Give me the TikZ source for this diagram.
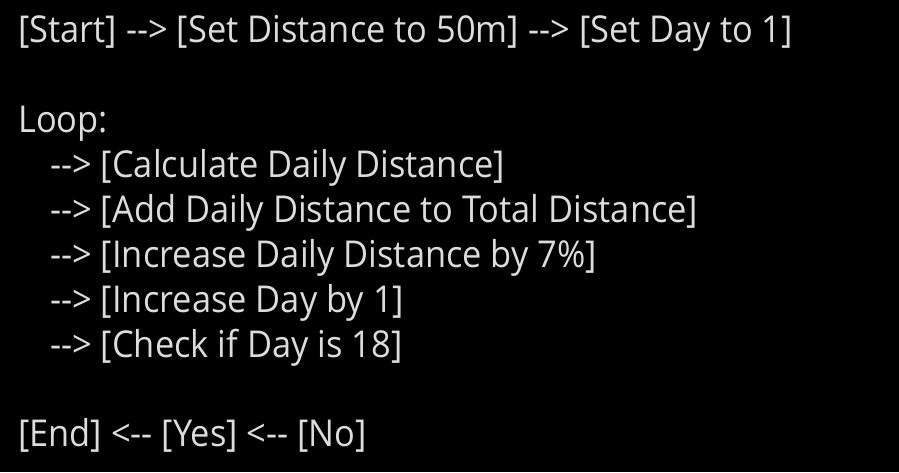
\documentclass[tikz,border=0pt]{standalone}
\usepackage{fontspec}
\setmainfont{Open Sans}[FakeStretch=0.93]
\definecolor{linegray}{HTML}{DCDCDC}
\newcommand{\fwd}{-{}-{}>}
\newcommand{\bwd}{<-{}-}
\begin{document}
\begin{tikzpicture}[x=1pt, y=-1pt, every node/.style={anchor=base west, inner sep=0pt, text=linegray, font=\fontsize{37}{44}\selectfont}]
      \fill[black] (0,0) rectangle (899,472);

      \node (start) at (18,42) {[Start] \fwd{} [Set Distance to 50m] \fwd{} [Set Day to 1]};
      \node (loop) at (18,132) {Loop:};
      \node (calc) at (50,177) {\fwd{} [Calculate Daily Distance]};
      \node (add) at (50,222) {\fwd{} [Add Daily Distance to Total Distance]};
      \node (incd) at (50,267) {\fwd{} [Increase Daily Distance by 7\%]};
      \node (incday) at (50,312) {\fwd{} [Increase Day by 1]};
      \node (check) at (50,357) {\fwd{} [Check if Day is 18]};
      \node (end) at (18,446) {[End] \bwd{} [Yes] \bwd{} [No]};
    \end{tikzpicture}
\end{document}
